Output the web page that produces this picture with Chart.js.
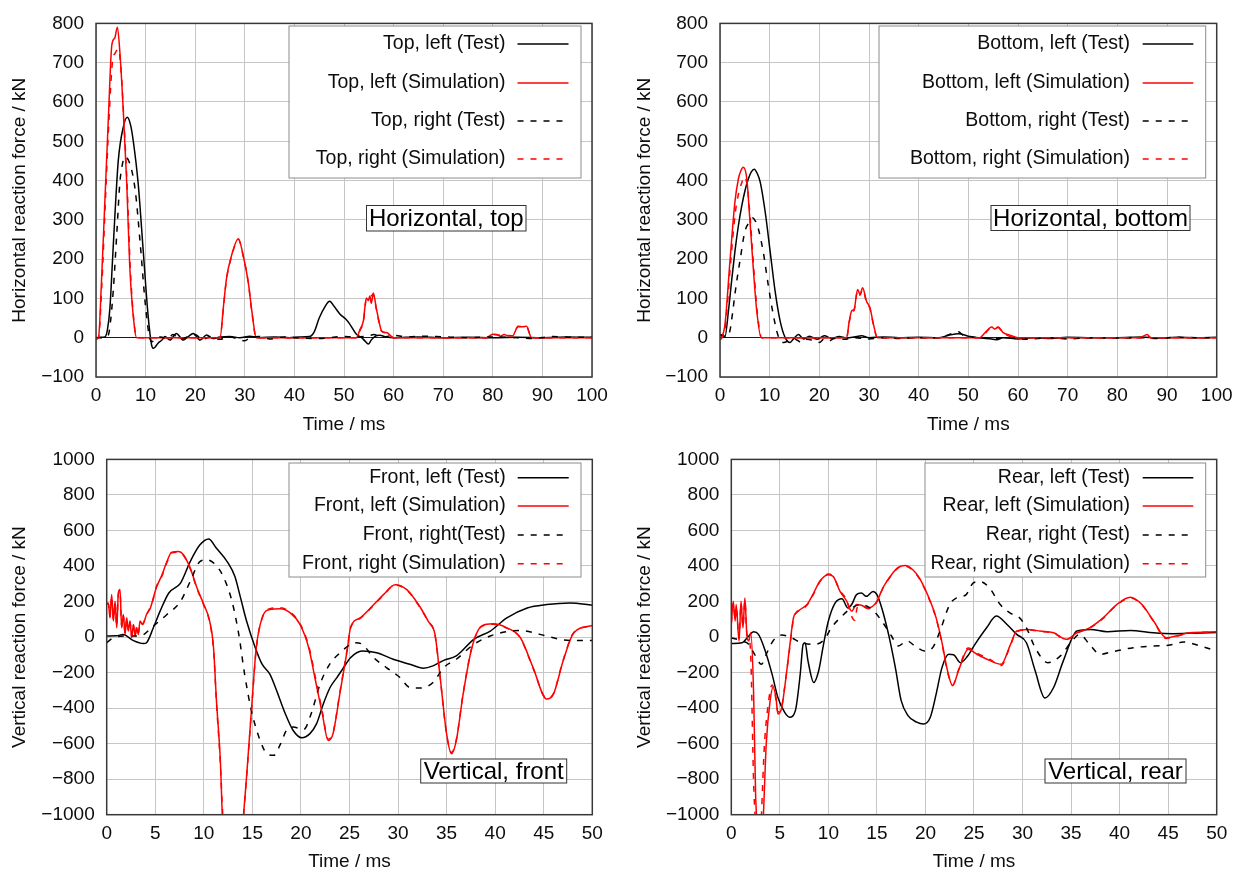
<!DOCTYPE html>
<html>
<head>
<meta charset="utf-8">
<script src="https://cdn.jsdelivr.net/npm/chart.js@4"></script>
<style>
body { margin: 0; background: #fff; }
#page { position: relative; width: 1244px; height: 873px; background: #fff; }
canvas { position: absolute; }
</style>
</head>
<body>
<div id="page">
  <canvas id="hTop" width="622" height="436" style="left:0;top:0"></canvas>
  <canvas id="hBottom" width="622" height="436" style="left:622px;top:0"></canvas>
  <canvas id="vFront" width="622" height="437" style="left:0;top:436px"></canvas>
  <canvas id="vRear" width="622" height="437" style="left:622px;top:436px"></canvas>
</div>
<script>
const FONT = '"Liberation Sans", Arial, Helvetica, sans-serif';

// ---- Horizontal, top (time ms, force kN)
const topLeftTest = [[0,0],[1,1],[1.8,2],[2.3,20],[2.8,74],[3.3,190],[3.8,309],[4.5,452],[5.5,536],[6.3,561],[7,540],[7.5,502],[8.5,393],[9.5,225],[10.5,57],[11.2,-18],[11.6,-27],[12.5,-14],[13.3,-6],[13.9,3],[14.9,-6],[16.2,11],[17.6,-6],[18.6,3],[19.6,11],[21,-6],[22.3,7],[23.6,-2],[25,2],[27,3],[29,0],[31,4],[33,0],[36,2],[39,0],[41,2],[43,3],[44,15],[45,50],[46.2,80],[47.1,93],[48,80],[49.2,60],[50.3,48],[51.2,34],[52.5,9],[53.5,1],[54.2,-8],[54.9,-16],[55.5,-6],[56.2,3],[57.2,6],[58.5,2],[60,0],[65,2],[70,0],[75,1],[80,0],[85,1],[90,0],[95,2],[100,1]];
const topLeftSim = [[0,-3],[0.5,0],[1.1,141],[1.8,351],[2.5,561],[3.2,746],[3.8,763],[4.3,790],[4.8,729],[5.5,578],[6.2,393],[6.8,183],[7.7,32],[8.2,0],[25,0],[25.7,80],[26.3,150],[27.3,208],[28.7,252],[29.7,208],[30.7,141],[31.5,60],[32.3,0],[52.5,0],[53.2,20],[53.9,43],[54.5,101],[54.9,95],[55.2,106],[55.5,88],[55.9,114],[56.5,76],[57,45],[57.6,17],[58.6,13],[60,0],[78.7,0],[80,9],[80.8,8],[81.5,4],[82.3,8],[83,5],[84,5],[85.1,29],[86,28],[86.8,29],[87.8,0],[100,0]];
const topRightTest = [[0,0],[1.5,0],[2,2],[2.5,7],[3,50],[3.5,124],[4.2,267],[4.8,393],[5.3,440],[5.8,460],[6.8,444],[7.9,376],[8.9,242],[9.9,91],[10.7,7],[11.3,-10],[12,-5],[13,2],[14.5,-3],[15.5,8],[17,-4],[18.5,2],[20,8],[21.5,-5],[23,3],[25,-4],[27,2],[29,-5],[30,-8],[31,0],[33,3],[35,-3],[38,2],[40,0],[45,-2],[50,3],[52,2],[55,5],[56,8],[58,2],[60,6],[63,2],[66,4],[70,2],[75,0],[80,2],[85,0],[88,-2],[92,3],[96,1],[100,2]];
const topRightSim = [[0,-3],[0.5,0],[1.2,140],[1.9,350],[2.6,550],[3.3,700],[3.9,725],[4.5,735],[5,690],[5.6,560],[6.3,380],[6.9,180],[7.7,35],[8.3,0],[25,0],[25.7,78],[26.3,148],[27.3,205],[28.7,250],[29.7,206],[30.7,140],[31.5,58],[32.3,0],[52.5,0],[53.2,18],[53.9,40],[54.5,98],[55.2,104],[55.9,110],[56.5,74],[57.6,16],[58.6,12],[60,0],[78.7,0],[80,8],[82,6],[84,5],[85.1,28],[86.8,28],[87.8,0],[100,0]];

// ---- Horizontal, bottom
const bottomLeftTest = [[0,5],[0.5,8],[1,3],[1.7,68],[2.3,140],[3,219],[3.7,285],[4.4,337],[5.1,378],[5.7,404],[6.3,422],[6.9,429],[7.5,418],[8.1,396],[9.1,320],[10.1,219],[11.1,118],[12.1,43],[13.1,1],[14.1,-12],[14.8,-3],[15.8,8],[16.8,-3],[18,4],[19.5,-4],[21,5],[22.5,-2],[24,3],[25.5,0],[27,2],[28.5,5],[30,0],[33,2],[36,0],[40,1],[44,0],[46,6],[48,10],[50,4],[52,0],[54,-2],[55.7,-5],[57,0],[60,-3],[63,0],[66,-2],[70,1],[75,0],[80,0],[85,2],[88,-1],[92,1],[96,0],[100,1]];
const bottomLeftSim = [[0,-5],[0.3,0],[1,34],[2,194],[3,345],[3.7,404],[4.2,425],[4.7,434],[5.4,404],[6,303],[6.7,177],[7.4,68],[8.3,0],[25.5,0],[26,40],[26.5,68],[27,72],[27.7,123],[28.2,110],[28.7,127],[29.5,93],[30.2,76],[30.9,34],[31.7,0],[52.3,0],[53.3,12],[54.7,27],[55.3,22],[56,27],[57,13],[58.5,6],[60,0],[84.5,0],[85.5,6],[86,8],[86.7,0],[100,0]];
const bottomRightTest = [[0,8],[1,2],[1.5,3],[2,18],[2.5,60],[3,110],[3.5,155],[4,194],[5,270],[6,295],[6.6,305],[7.2,295],[7.7,278],[8.7,219],[9.7,135],[10.7,60],[11.7,5],[12.8,-12],[13.8,-8],[15,-3],[16.4,-12],[17.5,-4],[19,-8],[20,-12],[21,-3],[22,-8],[23,-2],[25,-4],[27,0],[30,-3],[33,0],[36,-2],[40,0],[44,0],[45.5,5],[47,12],[48,15],[49,6],[50,4],[52,0],[55,-2],[58,0],[62,-4],[66,0],[70,-3],[75,0],[80,-1],[85,0],[88,-2],[92,1],[96,0],[100,0]];
const bottomRightSim = [[0,-5],[0.4,0],[1.1,30],[2.1,185],[3.1,320],[3.8,370],[4.4,395],[4.9,410],[5.5,385],[6.1,300],[6.8,175],[7.5,65],[8.4,0],[25.5,0],[26,38],[26.5,66],[27,70],[27.7,120],[28.2,108],[28.7,124],[29.5,90],[30.2,74],[30.9,32],[31.7,0],[52.3,0],[53.3,10],[54.7,26],[56,26],[57,12],[60,0],[84.5,0],[86,7],[86.7,0],[100,0]];

// ---- Vertical, front
const frontLeftTest = [[0,6],[1,7],[1.7,15],[2.7,-19],[3.8,-37],[4.1,-32],[4.8,52],[5.5,146],[6.4,248],[7.6,304],[8.6,425],[9.6,519],[10.5,552],[11.3,500],[12.4,425],[13.2,341],[13.7,239],[14.4,90],[15.3,-60],[16,-153],[16.8,-209],[17.5,-302],[18.4,-433],[19.2,-526],[20.1,-567],[20.9,-545],[21.6,-489],[22.3,-377],[23,-284],[23.7,-228],[24.3,-180],[25.1,-116],[26.3,-78],[27.8,-88],[29.5,-125],[31.2,-153],[32.6,-175],[33.6,-162],[34.7,-131],[36,-106],[37.8,-13],[39.5,34],[41.2,108],[43.3,164],[45.3,183],[47.7,192],[50,179]];
const frontLeftSim = [[0,183],[0.17,192],[0.34,108],[0.51,239],[0.69,90],[0.86,201],[1.03,52],[1.2,248],[1.37,267],[1.54,52],[1.72,127],[1.89,15],[2.06,108],[2.23,34],[2.4,90],[2.57,-4],[2.75,71],[2.92,6],[3.09,52],[3.26,15],[3.43,90],[3.7,70],[4.1,127],[4.5,164],[4.8,220],[5.1,276],[5.7,351],[6.2,425],[6.7,478],[7.4,481],[7.9,463],[8.6,388],[9.3,276],[10,183],[10.6,90],[11,-60],[11.3,-358],[11.7,-694],[11.9,-993],[12.8,-1600],[13.6,-1300],[14.1,-993],[14.4,-787],[14.9,-414],[15.4,-60],[16,108],[16.8,155],[17.9,160],[18.9,136],[19.9,71],[20.8,-60],[21.5,-246],[22.2,-433],[22.8,-582],[23.3,-545],[24,-321],[24.8,-60],[25.1,52],[26.1,108],[27.5,183],[28.5,239],[29.7,295],[30.9,267],[32.1,183],[33.1,90],[33.8,15],[34.3,-209],[35,-545],[35.5,-657],[36,-582],[36.7,-321],[37.6,-60],[38.6,62],[39.8,75],[41.2,52],[42.6,-4],[43.9,-172],[45.3,-349],[46,-321],[47,-134],[48.1,24],[50,65]];
const frontRightTest = [[0,-32],[0.7,-4],[2.1,6],[3.4,6],[4.8,62],[6.2,127],[7.6,201],[8.6,313],[9.6,425],[10.3,435],[11.2,407],[12,341],[12.9,201],[13.6,15],[14.2,-209],[14.9,-414],[15.8,-582],[16.5,-657],[17.2,-666],[17.9,-601],[18.5,-526],[19.2,-507],[19.9,-515],[20.3,-520],[21,-440],[22,-260],[23,-150],[24,-90],[25,-45],[25.6,-32],[26.3,-41],[27.5,-116],[28.8,-172],[30.2,-228],[31.2,-284],[32.3,-287],[33.6,-256],[34.7,-172],[36,-125],[37.8,-41],[39.5,6],[41.2,30],[42.6,37],[44.6,15],[46.7,-13],[48,-20],[50,-19]];
const frontRightSim = [[0,190],[0.17,185],[0.34,115],[0.51,230],[0.69,95],[0.86,195],[1.03,60],[1.2,240],[1.37,260],[1.54,60],[1.72,120],[1.89,20],[2.06,100],[2.23,40],[2.4,85],[2.57,2],[2.75,66],[2.92,10],[3.09,55],[3.26,20],[3.43,85],[3.7,75],[4.1,125],[4.5,170],[4.8,215],[5.1,280],[5.7,345],[6.2,420],[6.7,475],[7.4,478],[7.9,460],[8.6,385],[9.3,272],[10,178],[10.6,85],[11,-70],[11.3,-370],[11.7,-710],[11.95,-1000],[12.8,-1600],[13.6,-1300],[14.1,-1000],[14.4,-790],[14.9,-420],[15.4,-65],[16,105],[16.8,160],[17.9,165],[18.9,140],[19.9,75],[20.8,-50],[21.5,-230],[22.2,-420],[22.8,-575],[23.3,-540],[24,-315],[24.8,-55],[25.1,50],[26.1,105],[27.5,180],[28.5,236],[29.7,292],[30.9,265],[32.1,180],[33.1,88],[33.8,12],[34.3,-212],[35,-548],[35.5,-650],[36,-578],[36.7,-318],[37.6,-58],[38.6,60],[39.8,72],[41.2,50],[42.6,-6],[43.9,-175],[45.3,-345],[46,-318],[47,-130],[48.1,26],[50,62]];

// ---- Vertical, rear
const rearLeftTest = [[0,-37],[1.1,-32],[1.8,6],[2.3,30],[2.8,15],[3.5,-78],[4.2,-209],[4.8,-340],[5.5,-424],[6,-451],[6.6,-414],[7.1,-209],[7.4,-41],[7.6,-32],[7.9,-134],[8.5,-256],[9,-190],[9.5,-41],[10,90],[10.7,192],[11.4,216],[12,164],[12.4,183],[12.9,239],[13.4,248],[13.9,229],[14.6,257],[15,239],[15.5,164],[16.2,15],[16.9,-172],[17.5,-358],[18.2,-442],[19.1,-479],[19.8,-489],[20.5,-451],[21.1,-321],[21.7,-172],[22.4,-97],[22.9,-100],[23.6,-144],[24.3,-110],[25.1,-41],[26.3,52],[27.3,118],[28.4,71],[29.4,15],[30.4,-32],[31.3,-190],[32.3,-343],[33.2,-284],[34.2,-134],[35.6,34],[37,43],[38.7,30],[41.1,37],[43.5,24],[45.5,19],[47.6,22],[50,26]];
const rearLeftSim = [[0,71],[0.2,201],[0.4,90],[0.5,183],[0.8,-22],[1,201],[1.2,52],[1.4,220],[1.6,15],[1.8,-22],[2,24],[2.3,-321],[2.5,-881],[2.6,-1011],[2.9,-1400],[3.3,-1011],[3.6,-601],[4,-358],[4.3,-284],[4.6,-340],[4.8,-433],[5.2,-396],[5.5,-284],[6,-60],[6.4,108],[6.7,136],[7.1,155],[7.8,183],[8.4,239],[9.1,313],[10,351],[10.5,341],[11.2,257],[11.9,201],[12.4,146],[12.9,183],[13.4,179],[14.1,164],[15,201],[15.6,276],[16.5,351],[17.2,392],[17.9,403],[18.7,379],[19.4,330],[20.5,201],[21.1,108],[21.7,-30],[22.2,-172],[22.8,-274],[23.4,-190],[24.4,-69],[25.3,-97],[26.6,-131],[27.8,-153],[28.7,-50],[29.4,34],[30.5,43],[31.8,34],[33.2,24],[34.5,-13],[35.6,24],[36.9,52],[38.3,108],[39.7,183],[41.1,224],[42.3,183],[43.5,90],[44.8,-4],[45.8,6],[47.2,24],[50,30]];
const rearRightTest = [[0,-4],[1.1,-22],[1.8,-41],[2.4,-97],[3.1,-153],[3.6,-97],[4.3,-22],[5.2,11],[6.2,-4],[7.2,-32],[8.6,-41],[9.6,-13],[10.3,52],[11.4,118],[12.4,164],[13.4,183],[14.5,155],[15.5,90],[16.5,6],[17.2,-50],[18.1,-22],[18.9,-50],[19.9,-78],[20.8,-55],[21.5,34],[22.5,183],[23.2,220],[24.2,239],[24.9,304],[25.6,313],[26.6,276],[27.7,183],[28.7,136],[29.7,108],[30.4,52],[31.3,-60],[32.6,-144],[33.9,-106],[35.1,-22],[35.9,15],[36.9,-41],[38,-97],[39.3,-82],[41.4,-60],[43.5,-50],[45.2,-45],[46.6,-28],[48.3,-50],[50,-78]];
const rearRightSim = [[0,80],[0.2,190],[0.4,100],[0.5,170],[0.8,-10],[1,190],[1.2,60],[1.4,205],[1.6,20],[1.8,-10],[2,-100],[2.3,-820],[2.45,-1011],[2.8,-1400],[3.1,-1011],[3.4,-620],[3.8,-380],[4.2,-270],[4.5,-320],[4.8,-420],[5.2,-390],[5.5,-280],[6,-70],[6.4,100],[6.7,140],[7.1,150],[7.8,180],[8.4,235],[9.1,310],[10,355],[10.5,340],[11.2,262],[11.9,205],[12.3,130],[12.7,95],[13,170],[13.4,175],[14.1,160],[15,198],[15.6,272],[16.5,348],[17.2,390],[17.9,400],[18.7,376],[19.4,326],[20.5,198],[21.1,104],[21.7,-35],[22.2,-180],[22.8,-270],[23.4,-185],[24.4,-62],[25.3,-90],[26.6,-125],[27.8,-160],[28.7,-55],[29.4,30],[30.5,40],[31.8,32],[33.2,22],[34.5,-15],[35.6,22],[36.9,50],[38.3,105],[39.7,180],[41.1,220],[42.3,180],[43.5,88],[44.8,-8],[45.8,2],[47.2,22],[50,28]];

const topLabels = ['Top, left (Test)', 'Top, left (Simulation)', 'Top, right (Test)', 'Top, right (Simulation)'];
const bottomLabels = ['Bottom, left (Test)', 'Bottom, left (Simulation)', 'Bottom, right (Test)', 'Bottom, right (Simulation)'];
const frontLabels = ['Front, left (Test)', 'Front, left (Simulation)', 'Front, right(Test)', 'Front, right (Simulation)'];
const rearLabels = ['Rear, left (Test)', 'Rear, left (Simulation)', 'Rear, right (Test)', 'Rear, right (Simulation)'];
const panelNotes = ['Horizontal, top', 'Horizontal, bottom', 'Vertical, front', 'Vertical, rear'];
const yTitles = ['Horizontal reaction force / kN', 'Vertical reaction force / kN'];
const xTitle = 'Time / ms';

Chart.defaults.font.family = FONT;
Chart.defaults.font.size = 19;
Chart.defaults.color = '#0d0d0d';

function toPoints(arr) {
  return arr.map(p => ({x: p[0], y: p[1]}));
}

function withMinus(value) {
  return value < 0 ? '\u2212' + Math.abs(value) : '' + value;
}

// gnuplot-like frame, key box and the label box
const framePlugin = {
  id: 'frame',
  afterDatasetsDraw(chart, args, opts) {
    let ctx = chart.ctx;
    let a = chart.chartArea;
    ctx.save();
    ctx.strokeStyle = '#383838';
    ctx.lineWidth = 1.5;
    ctx.strokeRect(a.left, a.top, a.right - a.left, a.bottom - a.top);

    let lg = opts.legend;
    ctx.fillStyle = '#fff';
    ctx.fillRect(lg.x1, lg.y1, lg.x2 - lg.x1, lg.y2 - lg.y1);
    ctx.strokeStyle = '#8c8c8c';
    ctx.lineWidth = 1;
    ctx.strokeRect(lg.x1, lg.y1, lg.x2 - lg.x1, lg.y2 - lg.y1);
    ctx.font = '19.5px ' + FONT;
    ctx.textAlign = 'right';
    ctx.textBaseline = 'middle';
    chart.data.datasets.forEach((ds, i) => {
      let y = lg.rows[i];
      ctx.fillStyle = '#0d0d0d';
      ctx.fillText(ds.label, lg.textRight, y);
      ctx.strokeStyle = ds.borderColor;
      ctx.lineWidth = ds.borderWidth;
      ctx.setLineDash(ds.borderDash);
      ctx.beginPath();
      ctx.moveTo(lg.sx1, y);
      ctx.lineTo(lg.sx2, y);
      ctx.stroke();
      ctx.setLineDash([]);
    });

    let nt = opts.note;
    ctx.fillStyle = '#fff';
    ctx.fillRect(nt.x1, nt.y1, nt.x2 - nt.x1, nt.y2 - nt.y1);
    ctx.strokeStyle = '#333';
    ctx.lineWidth = 1;
    ctx.strokeRect(nt.x1, nt.y1, nt.x2 - nt.x1, nt.y2 - nt.y1);
    ctx.font = '24px ' + FONT;
    ctx.textAlign = 'center';
    ctx.fillStyle = '#000';
    ctx.fillText(nt.text, (nt.x1 + nt.x2) / 2, (nt.y1 + nt.y2) / 2 + 1);
    ctx.restore();
  }
};

function makeDatasets(labels, series) {
  const colors = ['#000', '#ff0000', '#000', '#ff0000'];
  const dashes = [[], [], [6, 7], [6, 7]];
  return series.map((s, i) => ({
    label: labels[i],
    data: toPoints(s),
    borderColor: colors[i],
    borderDash: dashes[i],
    borderWidth: 1.5,
    pointRadius: 0,
    cubicInterpolationMode: 'monotone',
    order: 4 - i,
  }));
}

function makeChart(id, cfg) {
  new Chart(document.getElementById(id), {
    type: 'line',
    data: {datasets: makeDatasets(cfg.labels, cfg.series)},
    plugins: [framePlugin],
    options: {
      responsive: false,
      animation: false,
      layout: {padding: {left: 0, top: cfg.padTop, right: cfg.padRight, bottom: 0}},
      plugins: {
        legend: {display: false},
        tooltip: {enabled: false},
        frame: {legend: cfg.legend, note: cfg.note},
      },
      scales: {
        x: {
          type: 'linear',
          min: 0,
          max: cfg.xMax,
          afterFit: (scale) => { scale.height = cfg.xHeight; },
          ticks: {stepSize: cfg.xStep, padding: 7.5, maxRotation: 0, autoSkip: false},
          grid: {color: '#c6c6c6', lineWidth: 1, drawTicks: false},
          border: {display: false},
          title: {display: true, text: xTitle, padding: {top: 0, bottom: cfg.xTitlePad}},
        },
        y: {
          min: cfg.yMin,
          max: cfg.yMax,
          afterFit: (scale) => { scale.width = cfg.yWidth; },
          ticks: {stepSize: cfg.yStep, padding: 12, autoSkip: false, callback: withMinus},
          grid: {
            lineWidth: 1,
            drawTicks: false,
            color: (c) => (cfg.darkZero && c.tick && c.tick.value === 0) ? '#1a1a1a' : '#c6c6c6',
          },
          border: {display: false},
          title: {display: true, text: cfg.yTitle, padding: {top: cfg.yTitlePad, bottom: 0}},
        },
      },
    },
  });
}

makeChart('hTop', {
  labels: topLabels,
  series: [topLeftTest, topLeftSim, topRightTest, topRightSim],
  xMax: 100, xStep: 10, yMin: -100, yMax: 800, yStep: 100,
  yTitle: yTitles[0], darkZero: true,
  yWidth: 96, xHeight: 59, padTop: 20, padRight: 30, xTitlePad: 0, yTitlePad: 8.6,
  legend: {x1: 289, y1: 26, x2: 581, y2: 178, rows: [44, 83, 121, 159], textRight: 505.5, sx1: 517.5, sx2: 568.5},
  note: {text: panelNotes[0], x1: 366.5, y1: 205.5, x2: 526, y2: 231},
});

makeChart('hBottom', {
  labels: bottomLabels,
  series: [bottomLeftTest, bottomLeftSim, bottomRightTest, bottomRightSim],
  xMax: 100, xStep: 10, yMin: -100, yMax: 800, yStep: 100,
  yTitle: yTitles[0], darkZero: true,
  yWidth: 98, xHeight: 59, padTop: 20, padRight: 27.3, xTitlePad: 0, yTitlePad: 11.6,
  legend: {x1: 257, y1: 26, x2: 583.7, y2: 178, rows: [44, 83, 121, 159], textRight: 508, sx1: 520.7, sx2: 571.3},
  note: {text: panelNotes[1], x1: 369, y1: 205.5, x2: 568, y2: 230.5},
});

makeChart('vFront', {
  labels: frontLabels,
  series: [frontLeftTest, frontLeftSim, frontRightTest, frontRightSim],
  xMax: 50, xStep: 5, yMin: -1000, yMax: 1000, yStep: 200,
  yTitle: yTitles[1], darkZero: false,
  yWidth: 106.7, xHeight: 58.3, padTop: 21.3, padRight: 29.7, xTitlePad: 0, yTitlePad: 8.6,
  legend: {x1: 289, y1: 27, x2: 581, y2: 141, rows: [41.7, 70, 99, 127.7], textRight: 505.7, sx1: 517.7, sx2: 568.7},
  note: {text: panelNotes[2], x1: 420.7, y1: 323, x2: 566.7, y2: 347},
});

makeChart('vRear', {
  labels: rearLabels,
  series: [rearLeftTest, rearLeftSim, rearRightTest, rearRightSim],
  xMax: 50, xStep: 5, yMin: -1000, yMax: 1000, yStep: 200,
  yTitle: yTitles[1], darkZero: false,
  yWidth: 109.3, xHeight: 58.3, padTop: 21.3, padRight: 27.3, xTitlePad: 0, yTitlePad: 11.6,
  legend: {x1: 303, y1: 27, x2: 583.7, y2: 141, rows: [41.7, 70, 99, 127.7], textRight: 508, sx1: 520.7, sx2: 571.3},
  note: {text: panelNotes[3], x1: 423, y1: 323, x2: 564, y2: 347},
});
</script>
</body>
</html>
